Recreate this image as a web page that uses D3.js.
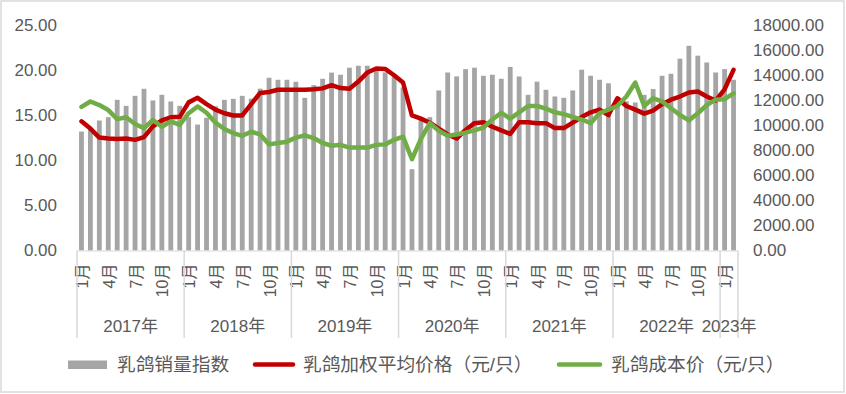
<!DOCTYPE html>
<html><head><meta charset="utf-8">
<script src="https://cdn.jsdelivr.net/npm/d3@7"></script>
<style>
body{margin:0;background:#fff}
svg text{font-family:"Liberation Sans","Noto Sans CJK SC",sans-serif;fill:#595959}
</style>
</head><body>
<svg id="c" width="846" height="394"></svg>
<script>
// ---- data ----
const years = ["2017年","2018年","2019年","2020年","2021年","2022年","2023年"];
const monthsPerYear = [12,12,12,12,12,12,2];
const monthNames = ["1月","2月","3月","4月","5月","6月","7月","8月","9月","10月","11月","12月"];
const shownMonths = ["1月","4月","7月","10月"];

const salesIndex = [
  9480, 9700,10360,10630,12010,11530,12330,12890,11960,12410,11880,11530,
 10630,10040,10580,11500,12010,12090,12330,12100,12900,13770,13610,13610,
 13450,12170,13180,13690,14180,14010,14570,14730,14730,14500,14200,13900,
 13000, 6480,10400,10630,12760,14190,13880,14460,14570,13930,14010,13690,
 14630,13870,12410,13460,12810,12280,12170,12760,14410,13930,13610,13330,
 12200,11900,11800,12410,12870,13930,14090,15290,16320,15530,14990,14190,
 14460,13610];
const avgPrice = [
 14.3,13.5,12.5,12.4,12.35,12.4,12.25,12.55,13.75,14.4,14.75,14.8,
 16.4,16.9,16.2,15.6,15.2,14.95,14.95,16.2,17.45,17.55,17.8,17.8,
 17.8,17.8,17.85,17.95,18.3,17.98,17.9,18.7,19.7,20.15,20.1,19.4,
 18.6,14.95,14.6,14.15,13.5,12.85,12.4,13.35,14.1,14.2,13.7,13.3,
 12.9,14.2,14.2,14.1,14.1,13.55,13.55,14.15,14.77,15.3,15.6,15.0,
 16.85,16.0,15.6,15.15,15.5,16.2,16.7,17.05,17.5,17.6,17.05,16.6,
 17.85,20.0];
const costPrice = [
 15.9,16.5,16.1,15.55,14.55,14.75,14.0,13.55,14.45,13.7,14.3,13.9,
 15.2,15.95,15.25,14.15,13.45,13.0,12.7,13.15,12.85,11.75,11.9,12.05,
 12.5,12.75,12.45,11.9,11.6,11.7,11.4,11.4,11.4,11.7,11.75,12.25,
 12.6,10.1,12.35,14.1,13.25,12.7,12.85,13.05,13.3,13.6,14.5,15.25,
 14.6,15.3,16.0,16.0,15.7,15.3,15.1,14.8,14.5,14.1,15.2,15.6,
 16.0,17.05,18.6,16.0,16.85,16.5,15.75,15.0,14.4,15.2,16.1,16.7,
 16.75,17.4];
const leftTicks = [0,5,10,15,20,25];
const rightTicks = [0,2000,4000,6000,8000,10000,12000,14000,16000,18000];
const seriesNames = ["乳鸽销量指数","乳鸽加权平均价格（元/只）","乳鸽成本价（元/只）"];
const colors = {bar:"#a5a5a5", price:"#c00000", cost:"#70ad47", grid:"#d9d9d9"};

// build categories
const categories = [];
years.forEach((y,yi)=>{ for(let m=0;m<monthsPerYear[yi];m++) categories.push({id:categories.length, year:y, month:monthNames[m]}); });

// ---- layout ----
const svg = d3.select("#c");
const L = 77, R = 738, T = 24.7, B = 250.5;

svg.append("rect").attr("x",1).attr("y",1).attr("width",843).attr("height",391)
  .attr("fill","#fff").attr("stroke",colors.grid).attr("stroke-width",1.5);

const x = d3.scaleBand().domain(categories.map(d=>d.id)).range([L,R]).paddingInner(0.46).paddingOuter(0.23);
const xc = d3.scaleBand().domain(categories.map(d=>d.id)).range([L,R]);
const yL = d3.scaleLinear().domain([0,25]).range([B,T]);
const yR = d3.scaleLinear().domain([0,18000]).range([B,T]);

// bars
svg.append("g").selectAll("rect").data(salesIndex).join("rect")
  .attr("x",(d,i)=>x(i)).attr("width",x.bandwidth())
  .attr("y",d=>yR(d)).attr("height",d=>yR(0)-yR(d))
  .attr("fill",colors.bar);

// axes (left / right)
const fmt = d3.format(".2f");
const gl = svg.append("g").attr("transform",`translate(${57},0)`)
  .call(d3.axisLeft(yL).tickValues(leftTicks).tickFormat(fmt).tickSize(0).tickPadding(0));
gl.select(".domain").remove();
gl.selectAll("text").attr("font-size",17).style("font-family","'Liberation Sans',sans-serif").attr("fill","#595959");

const gr = svg.append("g").attr("transform",`translate(${753},0)`)
  .call(d3.axisRight(yR).tickValues(rightTicks).tickFormat(fmt).tickSize(0).tickPadding(0));
gr.select(".domain").remove();
gr.selectAll("text").attr("font-size",17).style("font-family","'Liberation Sans',sans-serif").attr("fill","#595959");

// category axis line
svg.append("line").attr("x1",L).attr("x2",R).attr("y1",B+0.5).attr("y2",B+0.5)
  .attr("stroke",colors.grid).attr("stroke-width",1.2);

// month labels via axis
const gx = svg.append("g").attr("transform",`translate(0,${B})`)
  .call(d3.axisBottom(xc).tickSize(0)
    .tickFormat(i=>shownMonths.includes(categories[i].month)?categories[i].month:""));
gx.select(".domain").remove();
gx.selectAll("text")
  .attr("font-size",16).style("font-family","'Liberation Sans','Noto Sans CJK SC',sans-serif")
  .attr("fill","#595959")
  .attr("text-anchor","end").attr("transform","rotate(-90)")
  .attr("x",-13).attr("y",1).attr("dy","0.35em");

// year separators and labels
let start = 0;
const sepG = svg.append("g");
years.forEach((y,yi)=>{
  const n = monthsPerYear[yi];
  const x0 = xc(start), x1 = xc(start+n-1)+xc.bandwidth();
  sepG.append("line").attr("x1",x0).attr("x2",x0).attr("y1",B).attr("y2",338)
    .attr("stroke",colors.grid).attr("stroke-width",1.5);
  if(yi===years.length-1) sepG.append("line").attr("x1",x1).attr("x2",x1).attr("y1",B).attr("y2",338)
    .attr("stroke",colors.grid).attr("stroke-width",1.5);
  sepG.append("text").attr("x",(x0+x1)/2).attr("y",332).attr("text-anchor","middle")
    .attr("font-size",17).text(y);
  start += n;
});

// lines
const line = d3.line().x((d,i)=>xc(i)+xc.bandwidth()/2).y(d=>yL(d));
svg.append("path").datum(avgPrice).attr("d",line).attr("fill","none")
  .attr("stroke",colors.price).attr("stroke-width",4.5).attr("stroke-linejoin","round").attr("stroke-linecap","round");
svg.append("path").datum(costPrice).attr("d",line).attr("fill","none")
  .attr("stroke",colors.cost).attr("stroke-width",4.5).attr("stroke-linejoin","round").attr("stroke-linecap","round");

// legend
const lg = svg.append("g");
lg.append("rect").attr("x",68).attr("y",360.5).attr("width",39).attr("height",8.5).attr("fill",colors.bar);
lg.append("text").attr("x",117).attr("y",371).attr("font-size",18.7).text(seriesNames[0]);
lg.append("line").attr("x1",255).attr("x2",293).attr("y1",364.5).attr("y2",364.5)
  .attr("stroke",colors.price).attr("stroke-width",4.5).attr("stroke-linecap","round");
lg.append("text").attr("x",303).attr("y",371).attr("font-size",18.7).text(seriesNames[1]);
lg.append("line").attr("x1",559).attr("x2",600).attr("y1",364.5).attr("y2",364.5)
  .attr("stroke",colors.cost).attr("stroke-width",4.5).attr("stroke-linecap","round");
lg.append("text").attr("x",611).attr("y",371).attr("font-size",18.7).text(seriesNames[2]);
</script>
</body></html>
